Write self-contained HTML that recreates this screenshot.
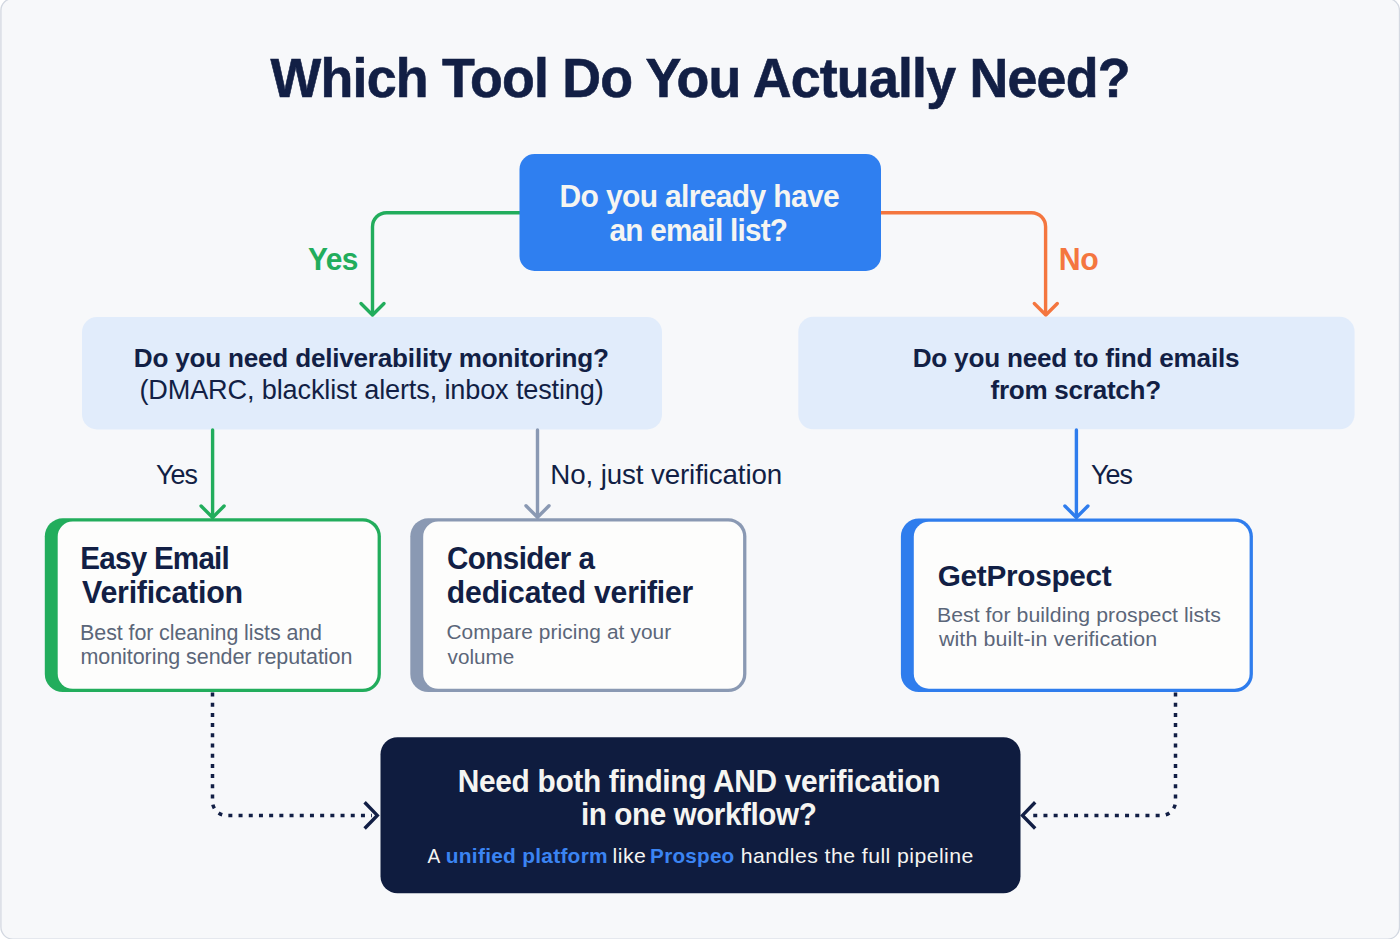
<!DOCTYPE html>
<html>
<head>
<meta charset="utf-8">
<style>
html,body{margin:0;padding:0;background:#ffffff;width:1400px;height:939px;overflow:hidden;}
svg{display:block;font-family:"Liberation Sans", sans-serif;}
</style>
</head>
<body>
<svg width="1400" height="939" viewBox="0 0 1400 939">

<rect x="0.9" y="-1.5" width="1398.6" height="940.6" rx="12" fill="#f7f8fa" stroke="#d3d8e1" stroke-width="1.3"/>
<g fill="none" stroke-width="3.4" stroke-linecap="round" stroke-linejoin="round">
  <path d="M520 212.7 H386.5 A14 14 0 0 0 372.5 226.7 V314" stroke="#22ad5c"/>
  <polyline points="361,303.5 372.5,315 384,303.5" stroke="#22ad5c"/>
  <path d="M880 212.7 H1031.6 A14 14 0 0 1 1045.6 226.7 V314" stroke="#f4763f"/>
  <polyline points="1034.3,303.5 1045.8,315 1057.3,303.5" stroke="#f4763f"/>
</g>
<rect x="519.5" y="154" width="361.5" height="117" rx="15" fill="#2f7ff0"/>
<rect x="82" y="317" width="580" height="112.5" rx="15" fill="#e1ecfb"/>
<rect x="798.3" y="316.8" width="556.3" height="112.5" rx="15" fill="#e1ecfb"/>
<g fill="none" stroke-width="3.4" stroke-linecap="round" stroke-linejoin="round">
  <path d="M212.6 430 V517" stroke="#22ad5c"/>
  <polyline points="201.1,506 212.6,517.5 224.1,506" stroke="#22ad5c"/>
  <path d="M537.5 430 V517" stroke="#8a99b3"/>
  <polyline points="526,505.8 537.5,517.3 549,505.8" stroke="#8a99b3"/>
  <path d="M1076.4 430 V517" stroke="#2f7ded"/>
  <polyline points="1064.9,506 1076.4,517.5 1087.9,506" stroke="#2f7ded"/>
</g>
<rect x="44.8" y="518.3" width="336.10" height="173.80" rx="18" fill="#22ad5c"/>
<rect x="57.70" y="521.60" width="319.90" height="167.20" rx="15" fill="#fdfdfc"/>

<rect x="410.3" y="518.3" width="336.10" height="173.80" rx="18" fill="#8a99b3"/>
<rect x="423.20" y="521.60" width="319.90" height="167.20" rx="15" fill="#fdfdfc"/>

<rect x="900.9" y="518.5" width="352.00" height="173.50" rx="18" fill="#2f7ded"/>
<rect x="913.80" y="521.80" width="335.80" height="166.90" rx="15" fill="#fdfdfc"/>

<g fill="none" stroke="#121f45" stroke-width="3.5" stroke-dasharray="4 6.2">
  <path d="M212.5 692.5 V801.4 A14 14 0 0 0 226.5 815.4 H372"/>
  <path d="M1175.5 692.5 V801.4 A14 14 0 0 1 1161.5 815.4 H1029"/>
</g>
<g fill="none" stroke="#121f45" stroke-width="3.4" stroke-linecap="butt" stroke-linejoin="miter">
  <polyline points="364.6,802.3 377.3,815.4 364.6,828.5"/>
  <polyline points="1035.2,802.3 1022.5,815.4 1035.2,828.5"/>
</g>
<rect x="380.5" y="737.3" width="640" height="156" rx="17" fill="#0f1c3f"/>

<text transform="translate(270.60 96.60) scale(1 1.028)" font-size="53.74" font-weight="bold" fill="#121f45" style="letter-spacing:-0.795px" stroke="#121f45" stroke-width="0.6">Which Tool Do You Actually Need?</text>
<text transform="translate(559.52 206.80) scale(1 1.041)" font-size="30.03" font-weight="bold" fill="#f5f5f2" style="letter-spacing:-0.656px" >Do you already have</text>
<text transform="translate(609.54 241.00) scale(1 1.052)" font-size="29.70" font-weight="bold" fill="#f5f5f2" style="letter-spacing:-0.746px" >an email list?</text>
<text transform="translate(308.03 270.10) scale(1 1.025)" font-size="29.93" font-weight="bold" fill="#22ad5c" style="letter-spacing:-0.614px" >Yes</text>
<text transform="translate(1058.81 270.40) scale(1 1.013)" font-size="30.28" font-weight="bold" fill="#f4763f" style="letter-spacing:-0.481px" >No</text>
<text transform="translate(133.77 366.60) scale(1 1.017)" font-size="26.14" font-weight="bold" fill="#121f45" style="letter-spacing:-0.227px" >Do you need deliverability monitoring?</text>
<text transform="translate(139.43 399.00) scale(1 1.013)" font-size="27.13" fill="#121f45" style="letter-spacing:-0.151px" >(DMARC, blacklist alerts, inbox testing)</text>
<text transform="translate(912.67 366.80) scale(1 1.017)" font-size="26.15" font-weight="bold" fill="#121f45" style="letter-spacing:-0.228px" >Do you need to find emails</text>
<text transform="translate(990.49 399.20) scale(1 1.019)" font-size="26.10" font-weight="bold" fill="#121f45" style="letter-spacing:-0.274px" >from scratch?</text>
<text transform="translate(155.98 483.60) scale(1 1.044)" font-size="26.87" fill="#121f45" style="letter-spacing:-0.937px" >Yes</text>
<text transform="translate(550.33 483.90) scale(1 1.011)" font-size="27.75" fill="#121f45" style="letter-spacing:-0.125px" >No, just verification</text>
<text transform="translate(1090.88 483.70) scale(1 1.044)" font-size="26.87" fill="#121f45" style="letter-spacing:-0.937px" >Yes</text>
<text transform="translate(80.35 569.30) scale(1 1.045)" font-size="29.62" font-weight="bold" fill="#121f45" style="letter-spacing:-0.769px" >Easy Email</text>
<text transform="translate(82.10 603.00) scale(1 1.018)" font-size="30.41" font-weight="bold" fill="#121f45" style="letter-spacing:-0.268px" >Verification</text>
<text transform="translate(80.12 639.50) scale(1 1.010)" font-size="21.45" fill="#5b6679" style="letter-spacing:-0.092px" >Best for cleaning lists and</text>
<text transform="translate(80.46 664.00) scale(1 1.007)" font-size="21.51" fill="#5b6679" style="letter-spacing:-0.067px" >monitoring sender reputation</text>
<text transform="translate(446.88 569.30) scale(1 1.032)" font-size="29.58" font-weight="bold" fill="#121f45" style="letter-spacing:-0.538px" >Consider a</text>
<text transform="translate(446.86 602.90) scale(1 1.013)" font-size="30.14" font-weight="bold" fill="#121f45" style="letter-spacing:-0.185px" >dedicated verifier</text>
<text transform="translate(446.42 639.40) scale(1 0.990)" font-size="20.86" fill="#5b6679" style="letter-spacing:0.105px" >Compare pricing at your</text>
<text transform="translate(447.60 663.80) scale(1 0.999)" font-size="20.66" fill="#5b6679" style="letter-spacing:0.010px" >volume</text>
<text transform="translate(937.67 586.10) scale(1 1.016)" font-size="29.76" font-weight="bold" fill="#121f45" style="letter-spacing:-0.279px" >GetProspect</text>
<text transform="translate(936.94 622.30) scale(1 0.993)" font-size="21.23" fill="#5b6679" style="letter-spacing:0.065px" >Best for building prospect lists</text>
<text transform="translate(938.93 646.00) scale(1 0.985)" font-size="21.39" fill="#5b6679" style="letter-spacing:0.127px" >with built-in verification</text>
<text transform="translate(457.73 791.50) scale(1 1.022)" font-size="29.88" font-weight="bold" fill="#f5f5f2" style="letter-spacing:-0.322px" >Need both finding AND verification</text>
<text transform="translate(580.94 825.40) scale(1 1.028)" font-size="29.70" font-weight="bold" fill="#f5f5f2" style="letter-spacing:-0.443px" >in one workflow?</text>
<text transform="translate(427.50 862.90) scale(1 1.065)" font-size="19.10" fill="#f5f5f2" style="letter-spacing:0.000px" >A</text>
<text transform="translate(445.82 862.90) scale(1 0.974)" font-size="20.89" font-weight="bold" fill="#3b84f2" style="letter-spacing:0.269px" >unified platform</text>
<text transform="translate(612.57 862.90) scale(1 0.955)" font-size="21.30" fill="#f5f5f2" style="letter-spacing:0.444px" >like</text>
<text transform="translate(650.11 862.90) scale(1 0.983)" font-size="20.70" font-weight="bold" fill="#3b84f2" style="letter-spacing:0.227px" >Prospeo</text>
<text transform="translate(740.77 862.90) scale(1 0.955)" font-size="21.31" fill="#f5f5f2" style="letter-spacing:0.413px" >handles the full pipeline</text>

</svg>
</body>
</html>
